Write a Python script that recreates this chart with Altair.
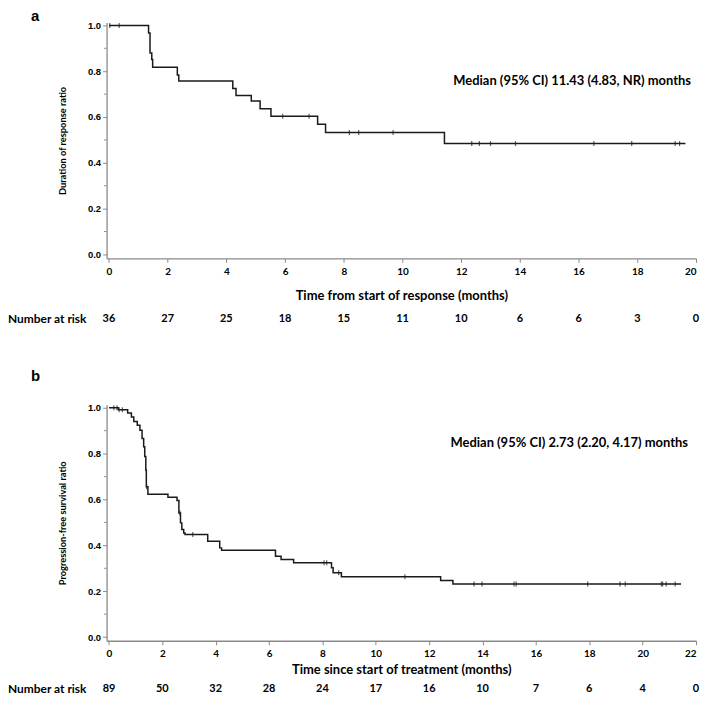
import altair as alt
import pandas as pd

# ---------------- Panel a: duration of response ----------------
a_time = [0, 1.35, 1.40, 1.46, 1.49, 2.33, 2.38, 4.22, 4.33, 4.85, 5.15, 5.52, 7.11, 7.38, 11.43, 19.64]
a_surv = [1.0, 0.967, 0.88, 0.851, 0.817, 0.783, 0.757, 0.725, 0.694, 0.67, 0.636, 0.603, 0.568, 0.532, 0.484, 0.484]
a_censor = [0.03, 0.35, 5.92, 6.82, 8.19, 8.51, 9.68, 12.36, 12.62, 13.0, 13.85, 16.52, 17.81, 19.29, 19.44]
a_risk_t = [0, 2, 4, 6, 8, 10, 12, 14, 16, 18, 20]
a_risk = [36, 27, 25, 18, 15, 11, 10, 6, 6, 3, 0]

# ---------------- Panel b: progression-free survival ----------------
b_time = [0, 0.35, 0.70, 0.84, 0.93, 1.06, 1.16, 1.24, 1.30, 1.34, 1.38, 1.40, 1.46, 2.21, 2.55, 2.62,
          2.68, 2.73, 2.80, 2.85, 3.70, 4.15, 4.22, 6.24, 6.45, 6.92, 8.34, 8.40, 8.71, 12.43, 12.89, 21.44]
b_surv = [1.0, 0.991, 0.977, 0.96, 0.94, 0.924, 0.902, 0.866, 0.83, 0.787, 0.729, 0.656, 0.623, 0.61, 0.596, 0.541,
          0.498, 0.469, 0.454, 0.447, 0.418, 0.389, 0.379, 0.353, 0.338, 0.324, 0.302, 0.281, 0.263, 0.247, 0.231, 0.231]
b_censor = [0.18, 0.30, 0.38, 0.50, 1.41, 2.66, 3.14, 8.06, 8.16, 8.61, 11.09, 13.68, 13.98, 15.18, 15.26,
            17.94, 19.15, 19.35, 20.70, 20.75, 20.88, 21.22]
b_risk_t = [0, 2, 4, 6, 8, 10, 12, 14, 16, 18, 20, 22]
b_risk = [89, 50, 32, 28, 24, 17, 16, 10, 7, 6, 4, 0]

y_ticks = [0.0, 0.2, 0.4, 0.6, 0.8, 1.0]
y_minor = [0.1, 0.3, 0.5, 0.7, 0.9]

AXIS_GRAY = "#8a8a8a"
LINE = "#1a1a1a"
TITLE_FONT = "Lato"


def level(times, surv, t):
    v = surv[0]
    for ti, si in zip(times, surv):
        if ti <= t:
            v = si
    return v


def panel(letter, times, surv, censor, risk_t, risk, xdom, width, ydom, height,
          xtitle, ytitle, median_txt, median_x, median_y, risk_y, xtitle_pad, letter_y):
    xs = alt.Scale(domain=xdom, nice=False, zero=False)
    ys = alt.Scale(domain=ydom, nice=False, zero=False)
    xaxis = alt.Axis(
        values=risk_t, title=xtitle, grid=False, domainColor=AXIS_GRAY, domainWidth=1.3,
        tickColor=AXIS_GRAY, tickSize=4, labelFont=TITLE_FONT, labelFontSize=10,
        labelFontWeight="bold", labelColor="black", labelPadding=4, labelFlush=1,
        labelFlushOffset=0, titleFont=TITLE_FONT, titleFontSize=13, titleFontWeight="bold",
        titleColor="black", titlePadding=xtitle_pad)
    yaxis = alt.Axis(
        values=y_ticks, format=".1f", title=ytitle, grid=False, domainColor=AXIS_GRAY,
        domainWidth=1.3, tickColor=AXIS_GRAY, tickSize=4, labelFont="Liberation Sans",
        labelFontSize=9.5, labelFontWeight="bold", labelColor="black", labelPadding=2,
        titleFont=TITLE_FONT, titleFontSize=9.3, titleFontWeight="bold", titleColor="black",
        titlePadding=20)

    curve = pd.DataFrame({"t": times, "s": surv})
    cens = pd.DataFrame({"t": censor, "s": [level(times, surv, c) for c in censor]})
    riskdf = pd.DataFrame({"t": risk_t, "n": risk})
    minor = pd.DataFrame({"s": y_minor})
    one = pd.DataFrame({"k": [0]})

    line = alt.Chart(curve).mark_line(interpolate="step-after", color=LINE, strokeWidth=1.5).encode(
        x=alt.X("t:Q", scale=xs, axis=xaxis),
        y=alt.Y("s:Q", scale=ys, axis=yaxis),
    )

    ticks = alt.Chart(cens).mark_tick(orient="vertical", size=5, thickness=1.2, color=LINE).encode(
        x=alt.X("t:Q", scale=xs, axis=xaxis),
        y=alt.Y("s:Q", scale=ys, axis=yaxis),
    )

    minor_ticks = alt.Chart(minor).mark_rule(color=AXIS_GRAY, strokeWidth=1).encode(
        y=alt.Y("s:Q", scale=ys, axis=yaxis),
        x=alt.value(-2.5),
        x2=alt.value(0),
    )

    risk_txt = alt.Chart(riskdf).mark_text(font=TITLE_FONT, fontSize=11, fontWeight="bold",
                                           color="black", baseline="middle").encode(
        x=alt.X("t:Q", scale=xs, axis=xaxis),
        y=alt.value(risk_y),
        text=alt.Text("n:Q"),
    )

    risk_lbl = alt.Chart(one).mark_text(font=TITLE_FONT, fontSize=12, fontWeight="bold",
                                        color="black", align="left", baseline="middle").encode(
        x=alt.value(-99), y=alt.value(risk_y), text=alt.value("Number at risk"))

    med = alt.Chart(one).mark_text(font=TITLE_FONT, fontSize=13, fontWeight="bold",
                                   color="black", align="right", baseline="middle").encode(
        x=alt.value(median_x), y=alt.value(median_y), text=alt.value(median_txt))

    lab = alt.Chart(one).mark_text(font="Liberation Sans", fontSize=15, fontWeight="bold",
                                   color="black", align="left", baseline="alphabetic").encode(
        x=alt.value(-76), y=alt.value(letter_y), text=alt.value(letter))

    return alt.layer(line, ticks, minor_ticks, risk_txt, risk_lbl, med, lab).properties(
        width=width, height=height)


pa = panel("a", a_time, a_surv, a_censor, a_risk_t, a_risk,
           [-0.08, 20], 592, [-0.0174, 1.013], 237,
           "Time from start of response (months)", "Duration of response ratio",
           "Median (95% CI) 11.43 (4.83, NR) months", 587, 59, 298, 13, -1)

pb = panel("b", b_time, b_surv, b_censor, b_risk_t, b_risk,
           [-0.09, 22], 592, [-0.016, 1.013], 237,
           "Time since start of treatment (months)", "Progression-free survival ratio",
           "Median (95% CI) 2.73 (2.20, 4.17) months", 584, 38.5, 285.5, 5, -23.5)

chart = alt.vconcat(pa, pb, spacing=44, padding={"left": 0, "top": 0, "right": 0, "bottom": 0},
                    background="white").configure_view(stroke=None)

chart.save("out.html", embed_options={"renderer": "svg", "actions": False})
